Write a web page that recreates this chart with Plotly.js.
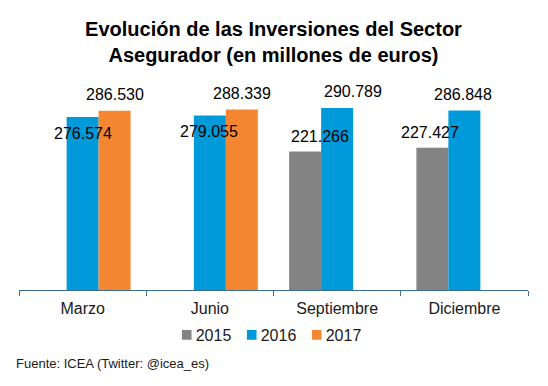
<!DOCTYPE html>
<html>
<head>
<meta charset="utf-8">
<script src="https://cdn.plot.ly/plotly-3.0.1.min.js"></script>
<style>html,body{margin:0;padding:0;background:#fff;}#chart{width:548px;height:386px;}</style>
</head>
<body>
<div id="chart"></div>
<script>
// ---- data ----
const categories = ['Marzo', 'Junio', 'Septiembre', 'Diciembre'];
const seriesNames = ['2015', '2016', '2017'];
const s2015 = [null, null, 221266, 227427];
const s2016 = [276574, 279055, 290789, 286848];
const s2017 = [286530, 288339, null, null];
const titleText = 'Evolución de las Inversiones del Sector<br>Asegurador (en millones de euros)';
const sourceText = 'Fuente: ICEA (Twitter: @icea_es)';

// ---- style ----
const colors = ['#838383', '#0099D9', '#F58733'];
const W = 548, H = 386;
const ml = 18.5, mr = 19.7, mt = 70.6, mb = 96;
const pw = W - ml - mr, ph = H - mt - mb;
const bargap = 0.246;
const font = 'Liberation Sans, Arial, sans-serif';

// label nudges [series][category] in px (dx, dy relative to bar top)
const labelDx = [[0, 0, 15, -2], [0, -1, 15.5, -1.5], [0, 0, 0, 0]];
const labelDy = [[0, 0, 15, 15.5], [-17, -16, 17, 16], [16, 16, 0, 0]];

const allSeries = [s2015, s2016, s2017];
const traces = allSeries.map((vals, i) => ({
  type: 'bar', name: seriesNames[i], x: categories, y: vals,
  marker: {color: colors[i], line: {width: 0}}, hoverinfo: 'none'
}));

function fmt(n) { return String(n).replace(/\B(?=(\d{3})+(?!\d))/g, '.'); }

const catW = pw / categories.length;
const barW = catW * (1 - bargap) / allSeries.length;
const annotations = [];
allSeries.forEach((vals, si) => {
  vals.forEach((v, ci) => {
    if (v === null) return;
    annotations.push({
      x: categories[ci], y: v, xref: 'x', yref: 'y', text: fmt(v), showarrow: false,
      xanchor: 'center', yanchor: 'middle',
      xshift: (si - 1) * barW + labelDx[si][ci], yshift: labelDy[si][ci],
      font: {family: font, size: 16, color: '#000'}
    });
  });
});
annotations.push({
  text: sourceText, showarrow: false, xref: 'paper', yref: 'paper',
  x: (13 - ml) / pw, y: (H - mb - 364) / ph, xanchor: 'left', yanchor: 'middle',
  font: {family: font, size: 13, color: '#1a1a1a'}
});

const layout = {
  width: W, height: H,
  margin: {l: ml, r: mr, t: mt, b: mb, pad: 0},
  paper_bgcolor: '#fff', plot_bgcolor: '#fff',
  barmode: 'group', bargap: bargap, bargroupgap: 0,
  title: {text: titleText, x: 0.5, xref: 'paper', xanchor: 'center', y: 1 - 36 / H, yref: 'container', yanchor: 'top',
          font: {family: font, size: 20, color: '#000', weight: 'bold'}},
  xaxis: {type: 'category', range: [-0.5, 3.5], showline: true, linecolor: '#3A6F8E', linewidth: 1,
          ticks: 'outside', ticklen: 5, tickcolor: '#3A6F8E', tickwidth: 1, tickson: 'boundaries', ticklabelstandoff: 4,
          showgrid: false, zeroline: false, tickfont: {family: font, size: 16, color: '#1a1a1a'}, fixedrange: true},
  yaxis: {range: [0, 350000], showgrid: false, zeroline: false, showticklabels: false, showline: false, ticks: '', fixedrange: true},
  showlegend: true,
  legend: {orientation: 'h', x: 0.5, xanchor: 'center', y: 1 - 335 / H, yref: 'container', yanchor: 'middle',
           font: {family: font, size: 16, color: '#1a1a1a'}, itemwidth: 30, traceorder: 'normal', bgcolor: 'rgba(0,0,0,0)'},
  annotations: annotations
};

Plotly.newPlot('chart', traces, layout, {staticPlot: true, displayModeBar: false}).then(gd => {
  // tighten legend spacing (symbol close to its text, as in the reference)
  const items = gd.querySelectorAll('.legend .traces');
  const step = 65, textX = 27;
  items.forEach((g, i) => {
    const m = /translate\(([-\d.]+),\s*([-\d.]+)\)/.exec(g.getAttribute('transform') || '');
    const ty = m ? m[2] : 0;
    g.setAttribute('transform', 'translate(' + (i * step) + ',' + ty + ')');
    const t = g.querySelector('.legendtext');
    if (t) t.setAttribute('x', textX);
    const sym = g.querySelector('.legendsymbols');
    if (sym) sym.setAttribute('transform', 'translate(' + 2 + ',0) scale(0.8)');
  });
  const leg = gd.querySelector('.legend');
  if (leg && items.length) {
    const lastText = items[items.length - 1].querySelector('.legendtext');
    const totalW = (items.length - 1) * step + textX + (lastText ? lastText.getComputedTextLength() : 36);
    const m = /translate\(([-\d.]+),\s*([-\d.]+)\)/.exec(leg.getAttribute('transform') || '');
    const ly = m ? m[2] : 0;
    const cx = 270;
    leg.setAttribute('transform', 'translate(' + (cx - totalW / 2 - 5) + ',' + ly + ')');
  }
});
</script>
</body>
</html>
